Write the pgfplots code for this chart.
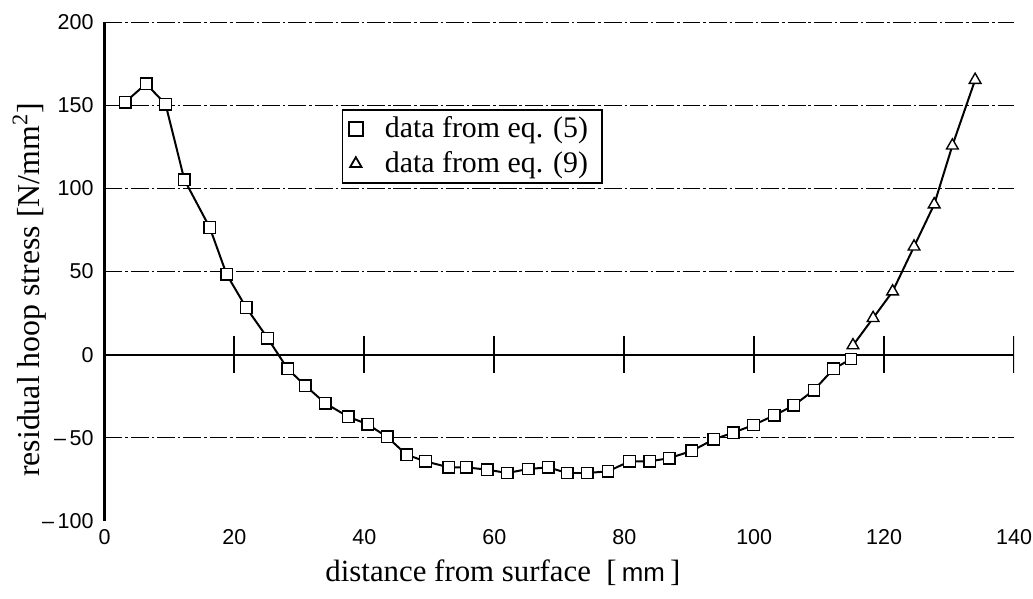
\documentclass[border=0pt]{standalone}
\usepackage{fontspec}
\setmainfont{Liberation Serif}
\newfontfamily\ticksans{Liberation Sans}
\usepackage{pgfplots}
\pgfplotsset{compat=1.18}
\begin{document}
\begin{tikzpicture}
\begin{axis}[
  scale only axis, width=457pt, height=250.5pt,
  xmin=0, xmax=140, ymin=-100, ymax=200,
  axis lines*=left,
  x axis line style={draw=none},
  y axis line style={line width=1.2pt},
  xtick={0,20,...,140},
  ytick={-100,-50,...,200},
  yticklabels={\textendash\,100,\textendash\,50,0,50,100,150,200},
  xtick style={draw=none}, ytick style={draw=none},
  extra y ticks={-50,50,100,150,200},
  extra y tick labels={},
  extra y tick style={grid=major},
  major grid style={black, line width=0.45pt, dash pattern=on 9pt off 1.5pt on 1.2pt off 1.5pt},
  tick label style={font=\ticksans\fontsize{10.8}{12}\selectfont},
  /pgf/number format/assume math mode=true,
  yticklabel style={xshift=-2pt},
  xticklabel style={yshift=-1pt},
  xlabel={distance from surface \ [\,{\ticksans\fontsize{13}{14}\selectfont mm}\,]},
  ylabel={residual hoop stress [N/mm\textsuperscript{2}]},
  xlabel style={at={(axis description cs:0.438,-0.122)}, anchor=base, font=\fontsize{15.5}{17}\selectfont},
  ylabel style={at={(axis description cs:-0.071,0.463)}, anchor=base, font=\fontsize{16}{18}\selectfont},
  legend style={at={(axis description cs:0.261,0.826)}, anchor=north west, draw=black, line width=0.8pt,
    font=\fontsize{15}{16}\selectfont, inner xsep=3pt, inner ysep=2.5pt, row sep=3.5pt,
    nodes={inner xsep=4pt, inner ysep=1pt}},
  legend cell align=left,
]
\draw[line width=1pt] (axis cs:0,0) -- (axis cs:140,0);
\pgfplotsinvokeforeach{20,40,60,80,100,120,140}{
  \draw[line width=1pt] (axis cs:#1,-11) -- (axis cs:#1,11);
}
\addplot[black, line width=1pt, mark=square*, mark size=2.9pt,
  mark options={fill=white, draw=black, line width=0.7pt, solid}, forget plot] coordinates {
(3.2,152) (6.4,163) (9.4,150.7) (12.3,105.2) (16.2,76.5) (18.8,48.3) (21.8,28.4)
(25.1,10) (28.2,-8.6) (30.9,-18.6) (34.0,-29.3) (37.5,-37.3) (40.5,-41.9)
(43.5,-49.5) (46.5,-60.2) (49.4,-64.2) (53.0,-67.8) (55.7,-67.8) (58.9,-69.2)
(62.0,-71.2) (65.2,-68.8) (68.3,-67.8) (71.2,-71.2) (74.3,-71.2) (77.5,-70.2)
(80.8,-64.2) (83.9,-64.2) (86.9,-62.3) (90.4,-57.9) (93.8,-50.9) (96.8,-46.9)
(99.9,-42.3) (103.1,-36.5) (106.1,-30.5) (109.2,-21.3) (112.2,-8.6) (114.9,-2.6)
};
\addplot[black, line width=1pt, mark=triangle*, mark size=3.4pt,
  mark options={fill=white, draw=black, line width=0.7pt, solid}, forget plot] coordinates {
(115.2,5.6) (118.3,22) (121.3,38) (124.6,65) (127.7,90.4) (130.5,125.8) (134.0,165.3)
};
\addlegendimage{only marks, mark=square, mark size=3.6pt, black, line width=0.9pt}
\addlegendentry{\hspace{7pt}data from eq. (5)}
\addlegendimage{only marks, mark=triangle, mark size=3.3pt, black, line width=0.9pt}
\addlegendentry{\hspace{7pt}data from eq. (9)}
\end{axis}
\pgfresetboundingbox
\useasboundingbox ([shift={(-52.5pt,-39pt)}]current axis.south west) rectangle ([shift={(9.5pt,11.2pt)}]current axis.north east);
\end{tikzpicture}
\end{document}
